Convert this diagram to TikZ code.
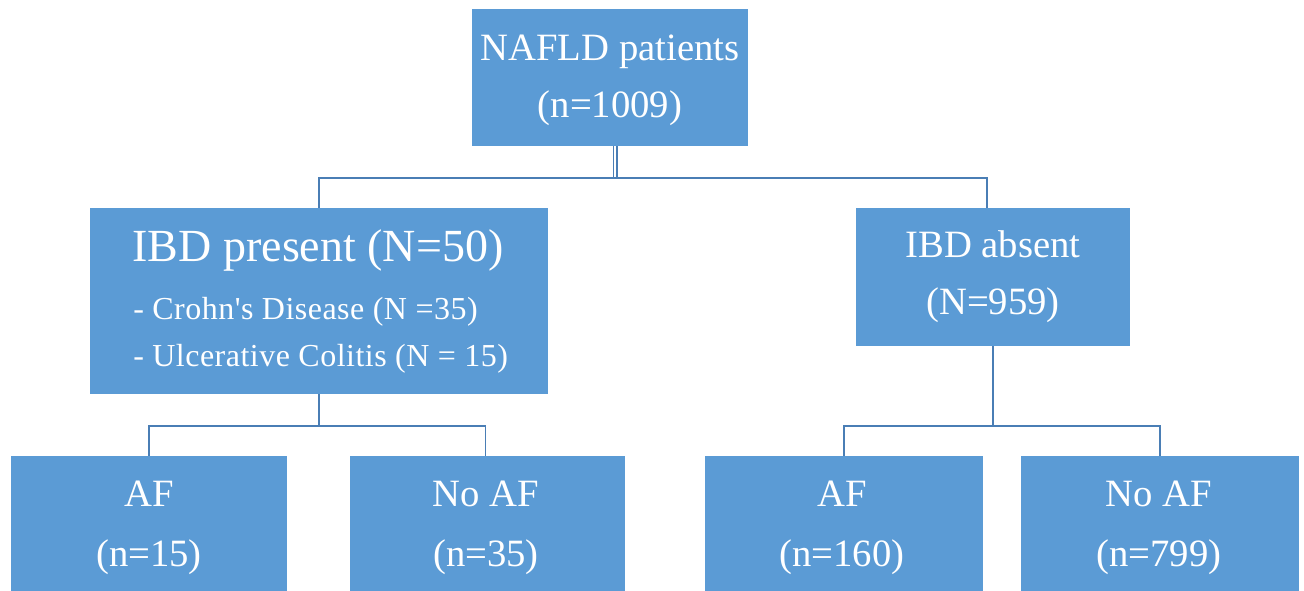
\documentclass[tikz,border=0pt]{standalone}
\usepackage{fontspec}
\setmainfont{Liberation Serif}
\newfontfamily\subfont{Liberation Serif}[LetterSpace=1.5]
\usetikzlibrary{fit}
\definecolor{boxblue}{HTML}{5B9BD5}
\definecolor{lineblue}{HTML}{4A7EB5}
\begin{document}
\begin{tikzpicture}[x=0.75pt,y=-0.75pt,
  box/.style={fill=boxblue,draw=none,inner sep=0pt,rectangle},
  conn/.style={draw=lineblue,line width=1.4pt},
  lbl/.style={text=white,inner sep=0pt,anchor=base,font=\fontsize{29}{33}\selectfont},
  head/.style={text=white,inner sep=0pt,anchor=base,font=\fontsize{34.5}{38}\selectfont},
  sub/.style={text=white,inner sep=0pt,anchor=base west,font=\subfont\fontsize{24}{28}\selectfont}]
\clip (0,0) rectangle (1304,591);
\fill[white] (0,0) rectangle (1304,591);
% boxes
\node[box,fit={(472,9)(748,146)}] (top) {};
\node[box,fit={(90,208)(548,394)}] (pres) {};
\node[box,fit={(856,208)(1130,346)}] (abs) {};
\node[box,fit={(11,456)(287,601)}] (af1) {};
\node[box,fit={(350,456)(625,601)}] (noaf1) {};
\node[box,fit={(705,456)(983,601)}] (af2) {};
\node[box,fit={(1021,456)(1299,601)}] (noaf2) {};
% texts
\node[lbl] (t1) at (610,61) {NAFLD patients};
\node[lbl] (t2) at (610,118) {(n=1009)};
\node[head] (p1) at (318,262) {IBD present (N=50)};
\node[sub] (p2) at (133,320) {- Crohn's Disease (N =35)};
\node[sub] (p3) at (133,367) {- Ulcerative Colitis (N = 15)};
\node[lbl] (a1) at (993,258) {IBD absent};
\node[lbl] (a2) at (993,315) {(N=959)};
\node[lbl] (b1) at (149,507) {AF};
\node[lbl] (b2) at (149,566) {(n=15)};
\node[lbl] (c1) at (486,507) {No AF};
\node[lbl] (c2) at (486,566) {(n=35)};
\node[lbl] (d1) at (842,507) {AF};
\node[lbl] (d2) at (842,566) {(n=160)};
\node[lbl] (e1) at (1159,507) {No AF};
\node[lbl] (e2) at (1159,566) {(n=799)};
% junctions
\coordinate (j1) at (613.5,178);
\coordinate (j2) at (319,426);
\coordinate (j3) at (993,426);
% connectors
\draw[conn] ([xshift=2.6pt]top.south) -- ([xshift=2.6pt]top.south |- j1);
\draw[conn] ([xshift=5.2pt]top.south) -- ([xshift=5.2pt]top.south |- j1);
\draw[conn] (pres.north) |- (j1) -| ([xshift=-4.5pt]abs.north);
\draw[conn] (pres.south) -- (j2);
\draw[conn] (af1.north) |- (j2) -| ([xshift=-1.5pt]noaf1.north);
\draw[conn] (abs.south) -- (j3);
\draw[conn] (af2.north) |- (j3) -| (noaf2.north);
\end{tikzpicture}
\end{document}
